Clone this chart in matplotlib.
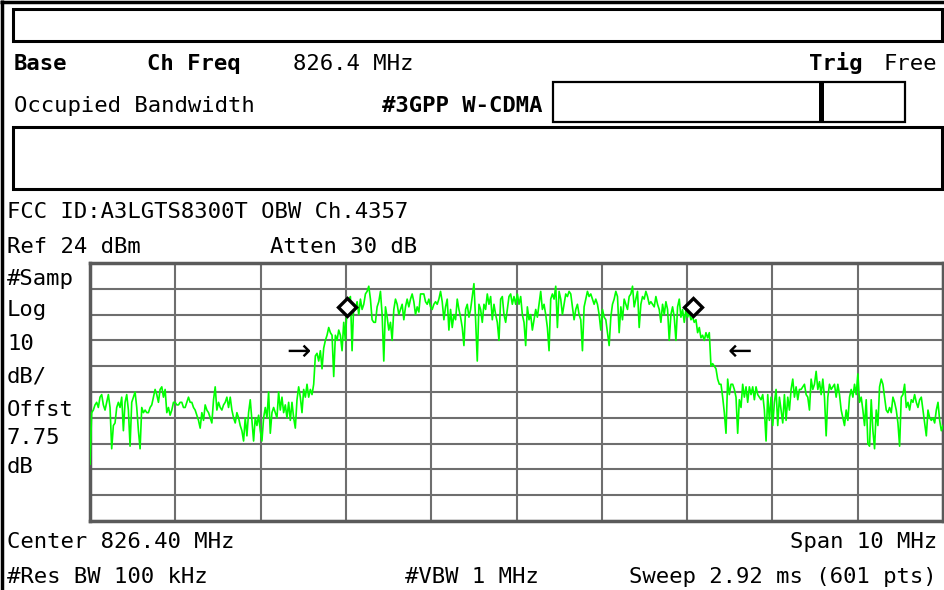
import numpy as np
import matplotlib
matplotlib.use("Agg")
import matplotlib.pyplot as plt
from matplotlib.patches import Rectangle

# analyzer settings
center_mhz = 826.4
span_mhz = 10.0
ref_dbm = 24.0
db_per_div = 10.0

# trace amplitude (dBm) left to right
skirt_left = [-54, -34, -33, -31, -30, -32, -28, -27, -31, -33, -30, -27, -32, -48, -39, -38,
              -32, -30, -32, -28, -41, -30, -27, -33, -47, -30, -28, -26, -32, -41, -48, -32,
              -34, -33, -34, -34, -32, -31, -28, -25, -27, -30, -25, -24, -28, -25, -34, -32,
              -35, -33, -30, -30, -31, -31, -30, -30, -32, -32, -30, -28, -30, -30, -32, -33,
              -35, -37, -40, -34, -37, -31, -33, -34, -36, -38, -29, -24, -33, -30, -32, -33,
              -31, -30, -28, -32, -28]
rise = [-33, -36, -38, -34, -36, -39, -41, -45, -36, -43, -34, -29, -37, -45, -36, -39,
        -35, -41, -45, -36, -32, -36, -26, -42, -34, -32, -34, -36, -26, -33, -28, -34,
        -31, -36, -30, -37, -30, -36, -40, -29, -24, -28, -34, -25, -28, -23, -28, -25,
        -27, -23, -12, -11, -14, -10, -17, -9, -6, -4, -1, -3, -4, -20, -4, -6,
        -2, -4, -10, 1, -6, 7, 10, 11, -10, 8, 6, 9, 4, 10, 6, 8,
        12, 13, 15, 10, 2]
plateau_a = [1, 1, 7, 9, 13, 4, -14, 7, 3, -2, 1, -6, 6, 10, 8, 4,
             6, 8, 2, 7, 10, 7, 10, 12, 9, 4, 7, 5, 12, 12, 12, 9,
             8, 10, 7, 6, 8, 9, 8, 10, 13, 9, 2, 7, 10, -2, 6, -1,
             4, 2, 10, 6, 3, -1, -8, 6, 8, 3, 6, 11, 16, 2, -14, 8,
             6, 1, 8, 6, 12, 8, 11, 2, 8, 4, 1, -6, 10, 11, 4, 1,
             6, 11, 12, 8]
plateau_b = [11, 8, 12, 8, 11, 4, 1, -8, 7, 2, 4, -2, 2, 6, 3, 8,
             13, 6, 8, 4, -1, -10, 10, 12, 10, 15, -1, 13, 10, 4, 8, 12,
             11, 13, 12, 7, 2, 6, 8, 4, 2, -10, 7, 10, 13, 11, 12, 10,
             8, 10, 8, 4, -2, 6, 3, 2, -3, -8, 3, 8, 10, 13, 11, -3,
             7, 2, 10, 8, 6, 11, 12, 15, 7, 10, 13, -1, 8, 11, 10, 13,
             11, 8, 9, 8]
fall = [7, 11, 8, 6, 1, 8, 4, 9, 6, -6, 4, 7, 3, -6, 7, 10,
        3, 6, 1, 6, 3, 5, 2, 3, 1, 2, -3, -1, -5, -4, -6, -3,
        -5, -3, -16, -15, -16, -17, -21, -23, -23, -28, -34, -42, -21, -27, -23, -23,
        -25, -28, -42, -29, -32, -23, -28, -24, -30, -24, -27, -24, -29, -24, -27, -28,
        -29, -27, -33, -45, -27, -37, -28, -39, -30, -25, -39, -28, -33, -38, -27, -37,
        -28, -33, -25, -21]
skirt_right = [-28, -24, -29, -25, -25, -24, -23, -27, -28, -33, -21, -25, -23, -18, -25, -22,
               -27, -21, -28, -43, -28, -23, -25, -24, -23, -28, -23, -27, -33, -36, -39, -33,
               -37, -28, -25, -28, -23, -27, -19, -30, -28, -33, -39, -29, -46, -47, -29, -41,
               -48, -33, -39, -24, -21, -23, -28, -33, -34, -32, -34, -28, -30, -33, -38, -47,
               -28, -27, -23, -32, -30, -33, -29, -30, -27, -30, -32, -29, -28, -33, -38, -43,
               -33, -36, -37, -36, -38, -33, -30, -37, -41, -39]

# occupied bandwidth markers and the arrows pointing at them
obw_marker_mhz = [824.41, 828.47]
obw_marker_dbm = 6.9
arrow_mhz = [823.84, 829.02]
arrow_dbm = -10.5

trace = np.array(skirt_left + rise + plateau_a + plateau_b + fall + skirt_right, dtype=float)
freq = np.linspace(center_mhz - span_mhz / 2, center_mhz + span_mhz / 2, len(trace))

W, H = 944, 590
fig = plt.figure(figsize=(W / 100, H / 100), dpi=100)
fig.patch.set_facecolor("white")

FONT = "DejaVu Sans Mono"
FS = 16

# overlay in pixel coords for the frame and the annotation text
ov = fig.add_axes([0, 0, 1, 1])
ov.set_xlim(0, W)
ov.set_ylim(H, 0)
ov.axis("off")

# outer frame
ov.plot([1.5, 1.5], [0, H], color="black", lw=2.5, solid_capstyle="butt")
ov.plot([0, W], [1.5, 1.5], color="black", lw=2.5, solid_capstyle="butt")

# header boxes
ov.add_patch(Rectangle((13, 9), 929, 32, fill=False, ec="black", lw=2.2))
ov.add_patch(Rectangle((13, 127), 929, 62, fill=False, ec="black", lw=2.2))
ov.add_patch(Rectangle((553, 82), 352, 40, fill=False, ec="black", lw=1.6))
ov.add_patch(Rectangle((819, 82), 5, 40, color="black", lw=0))


def txt(x, y, s, bold=False, ha="left"):
    ov.text(x, y, s, family=FONT, fontsize=FS, fontweight="bold" if bold else "normal",
            ha=ha, va="baseline", color="black")


txt(14, 70, "Base", bold=True)
txt(147, 70, "Ch Freq", bold=True)
txt(293, 70, "826.4 MHz")
txt(862, 70, "Trig", bold=True, ha="right")
txt(937, 70, "Free", ha="right")
txt(14, 112, "Occupied Bandwidth")
txt(543, 112, "#3GPP W-CDMA", bold=True, ha="right")

txt(7, 218, "FCC ID:A3LGTS8300T OBW Ch.4357")
txt(7, 253, "Ref 24 dBm")
txt(270, 253, "Atten 30 dB")

side_labels = ["#Samp", "Log", "10", "dB/", "Offst", "7.75", "dB"]
side_base = [285, 316, 350, 383, 416, 444, 473]
for s, yb in zip(side_labels, side_base):
    txt(7, yb, s)

txt(7, 548, "Center 826.40 MHz")
txt(937, 548, "Span 10 MHz", ha="right")
txt(7, 583, "#Res BW 100 kHz")
txt(405, 583, "#VBW 1 MHz")
txt(937, 583, "Sweep 2.92 ms (601 pts)", ha="right")

# graticule
left, right, top, bottom = 90, 943, 263, 521
ax = fig.add_axes([left / W, 1 - bottom / H, (right - left) / W, (bottom - top) / H])
ax.set_facecolor("white")
f0, f1 = center_mhz - span_mhz / 2, center_mhz + span_mhz / 2
y1 = ref_dbm
y0 = ref_dbm - 10 * db_per_div
ax.set_xlim(f0, f1)
ax.set_ylim(y0, y1)
ax.set_xticks(np.linspace(f0, f1, 11))
ax.set_yticks(np.linspace(y0, y1, 11))
ax.tick_params(length=0, labelbottom=False, labelleft=False)
ax.grid(True, color="#6e6e6e", lw=1.5)
ax.set_axisbelow(True)
for sp in ax.spines.values():
    sp.set_color("#5a5a5a")
    sp.set_linewidth(2.5)

ax.plot(freq, trace, color="#00ff00", lw=1.2, zorder=3)

ax.plot(obw_marker_mhz, [obw_marker_dbm] * 2, ls="none", marker="D", ms=9.5,
        mfc="white", mec="black", mew=2.4, zorder=5)
ax.text(arrow_mhz[0], arrow_dbm, "\u2192", family="DejaVu Sans", fontsize=21,
        ha="center", va="center", color="black", zorder=6)
ax.text(arrow_mhz[1], arrow_dbm, "\u2190", family="DejaVu Sans", fontsize=21,
        ha="center", va="center", color="black", zorder=6)

fig.savefig("out.png", dpi=100, facecolor="white")
